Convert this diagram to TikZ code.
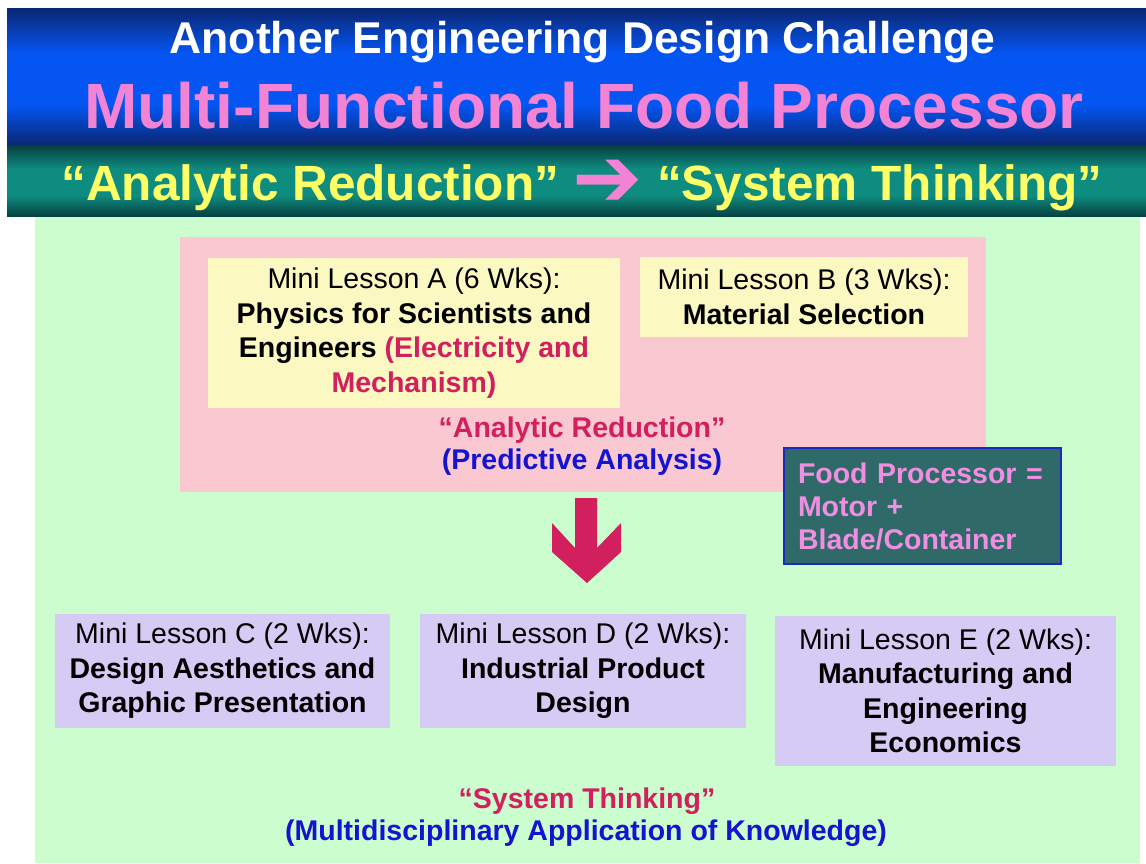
\documentclass[tikz,border=0pt]{standalone}
\usepackage{fontspec}
\setmainfont{Liberation Sans}
\newfontfamily\symfont{DejaVu Sans}
\definecolor{navy}{HTML}{0A2672}
\definecolor{brightblue}{HTML}{0455F2}
\definecolor{tealdark}{HTML}{053E3E}
\definecolor{tealmid}{HTML}{0F8C80}
\definecolor{titlepink}{HTML}{F383D4}
\definecolor{titleyellow}{HTML}{FFFF66}
\definecolor{mintbg}{HTML}{CCFDCF}
\definecolor{rosebox}{HTML}{F9C8D1}
\definecolor{creambox}{HTML}{FBF8C2}
\definecolor{lilacbox}{HTML}{D5CBF5}
\definecolor{slateteal}{HTML}{2F6A69}
\definecolor{frameblue}{HTML}{1A2BC4}
\definecolor{crimson}{HTML}{D2205F}
\definecolor{deepblue}{HTML}{1414D0}
\definecolor{foodpink}{HTML}{F08EE2}
\begin{document}
\begin{tikzpicture}[x=1pt,y=-1pt,
  body/.style={font=\fontsize{28.5}{34.5}\selectfont},
  lesson/.style={body, inner sep=0pt, align=center},
  headline/.style={anchor=base, font=\bfseries\fontsize{#1}{#1}\selectfont},
  caption/.style={anchor=base, font=\bfseries\fontsize{28.5}{33}\selectfont}]
\useasboundingbox (0,0) rectangle (1146,863);
\fill[white] (0,0) rectangle (1146,863);

% title banner: blue band and teal band, each dark at the edges, bright in the middle
\foreach \k in {8,...,144}{
  \pgfmathsetmacro\p{100*max(0,min(1,(\k-8)/45,(145-\k)/40))}
  \fill[brightblue!\p!navy] (7,\k) rectangle (1146,\k+1.6);
}
\foreach \k in {145,...,216}{
  \pgfmathsetmacro\p{100*max(0,min(1,(\k-145)/24,(217-\k)/22))}
  \fill[tealmid!\p!tealdark] (7,\k) rectangle (1146,\k+1.6);
}
\fill[white] (0,217) rectangle (1146,219);
\node[headline=44.5, text=white] (title1) at (582.5,53) {Another Engineering Design Challenge};
\node[headline=64, text=titlepink] (title2) at (584,128) {Multi-Functional Food Processor};
\node[headline=49.5, text=titleyellow] (title3) at (582,200)
  {“Analytic Reduction” {\color{titlepink}\symfont\fontsize{84}{84}\selectfont\raisebox{-6pt}{➔}} “System Thinking”};

% main panel
\fill[mintbg] (35,217) rectangle (1140,863);

% analytic reduction stage
\node[fill=rosebox, inner sep=0pt, minimum width=806pt, minimum height=255pt] (analysis) at (583,364.5) {};
\node[lesson, fill=creambox, minimum width=412pt, minimum height=150pt] (lessonA) at (414,333)
  {Mini Lesson A (6 Wks):\\
   \textbf{Physics for Scientists and}\\
   \textbf{Engineers \textcolor{crimson}{(Electricity and}}\\
   \textbf{\textcolor{crimson}{Mechanism)}}};
\node[lesson, fill=creambox, minimum width=328pt, minimum height=80pt] (lessonB) at (804,297)
  {Mini Lesson B (3 Wks):\\ \textbf{Material Selection}};
\node[caption, text=crimson] (reduction) at (582,437) {“Analytic Reduction”};
\node[caption, text=deepblue] (predictive) at (582,469) {(Predictive Analysis)};

% product breakdown
\node[body, font=\bfseries\fontsize{28.5}{33}\selectfont, text=foodpink, fill=slateteal,
  draw=frameblue, line width=1.2pt, align=left, inner xsep=14pt, inner ysep=0pt,
  text width=249pt, minimum height=116pt] (food) at (922.5,506)
  {Food Processor =\\ Motor +\\ Blade/Container};

% transition arrow
\fill[crimson] (575,498) -- (597,498) -- (597,548) -- (621,523) -- (621,552)
  -- (587,583) -- (552,552) -- (552,523) -- (575,548) -- cycle;

% system thinking stage
\node[lesson, fill=lilacbox, minimum width=335pt, minimum height=114pt] (lessonC) at (222.5,671)
  {Mini Lesson C (2 Wks):\\ \textbf{Design Aesthetics and}\\ \textbf{Graphic Presentation}};
\node[lesson, fill=lilacbox, minimum width=326pt, minimum height=114pt] (lessonD) at (583,671)
  {Mini Lesson D (2 Wks):\\ \textbf{Industrial Product}\\ \textbf{Design}};
\node[lesson, fill=lilacbox, minimum width=341pt, minimum height=150pt] (lessonE) at (945.5,691)
  {Mini Lesson E (2 Wks):\\ \textbf{Manufacturing and}\\ \textbf{Engineering}\\ \textbf{Economics}};
\node[caption, text=crimson] (system) at (587,808) {“System Thinking”};
\node[caption, text=deepblue] (multi) at (586,840) {(Multidisciplinary Application of Knowledge)};
\end{tikzpicture}
\end{document}
